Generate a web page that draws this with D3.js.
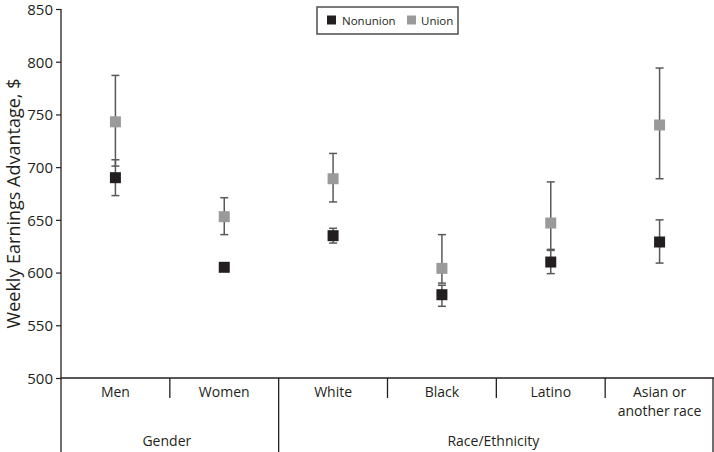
<!DOCTYPE html>
<html><head><meta charset="utf-8">
<script src="https://cdn.jsdelivr.net/npm/d3@7"></script>
<style>body{margin:0;background:#fff;} text{font-family:"Open Sans",sans-serif;fill:#231f20;}</style>
</head><body><svg id="c" width="714" height="452"></svg>
<script>
const categories = ["Men","Women","White","Black","Latino","Asian or another race"];
const groups = [{name:"Gender", from:0, to:1},{name:"Race/Ethnicity", from:2, to:5}];
const nonunion = [690, 605, 635, 579, 610, 629];
const nonunionLo = [673, 603, 628, 568, 599, 609];
const nonunionHi = [707, 608, 642, 588, 621, 650];
const union = [743, 653, 689, 604, 647, 740];
const unionLo = [701, 636, 667, 590, 622, 689];
const unionHi = [787, 671, 713, 636, 686, 794];
const yTicks = [500,550,600,650,700,750,800,850];
const seriesNames = ["Nonunion","Union"];
const colors = {Nonunion:"#231f20", Union:"#9a9a9a"};

const svg = d3.select("#c");
const x0 = 61, x1 = 714, yTop = 9, yBase = 378;
const x = d3.scaleBand().domain(categories).range([x0, x1]);
const y = d3.scaleLinear().domain([500, 850]).range([yBase, yTop]);

// y axis
const yAx = svg.append("g").attr("transform",`translate(${x0},0)`)
  .call(d3.axisLeft(y).tickValues(yTicks).tickSize(5).tickPadding(3));
yAx.select(".domain").remove();
yAx.selectAll("line").attr("stroke","#231f20").attr("stroke-width",1.2);
yAx.selectAll("text").style("font-size","15px").attr("fill","#231f20").attr("dy","0.36em");
svg.append("line").attr("x1",x0).attr("x2",x0).attr("y1",yTop).attr("y2",452).attr("stroke","#231f20").attr("stroke-width",1.3);
svg.append("line").attr("x1",x0).attr("x2",x1).attr("y1",yBase).attr("y2",yBase).attr("stroke","#231f20").attr("stroke-width",1.3);
svg.append("line").attr("x1",x1-1).attr("x2",x1-1).attr("y1",yBase).attr("y2",452).attr("stroke","#231f20").attr("stroke-width",1.3);

// y title
svg.append("text").attr("transform",`translate(20,${(yTop+yBase)/2+10}) rotate(-90)`)
  .attr("text-anchor","middle").style("font-size","18px").text("Weekly Earnings Advantage, $");

// category dividers
categories.forEach((c,i)=>{
  if(i===0) return;
  const xx = x(c);
  const isGroup = groups.some(g=>g.from===i);
  svg.append("line").attr("x1",xx).attr("x2",xx).attr("y1",yBase).attr("y2",isGroup?452:398)
    .attr("stroke","#231f20").attr("stroke-width",1.3);
});
// category labels
categories.forEach((c)=>{
  const cx = x(c)+x.bandwidth()/2;
  const t = svg.append("text").attr("text-anchor","middle").attr("x",cx).style("font-size","14px");
  if(c==="Asian or another race"){
    t.append("tspan").attr("x",cx).attr("y",397).text("Asian or");
    t.append("tspan").attr("x",cx).attr("y",416).text("another race");
  } else t.attr("y",397).text(c);
});
groups.forEach(g=>{
  const a = x(categories[g.from]), b = x(categories[g.to])+x.bandwidth();
  svg.append("text").attr("text-anchor","middle").attr("x",(a+b)/2-3).attr("y",446)
    .style("font-size","14px").text(g.name);
});

// error bars + markers
function drawSeries(vals, lo, hi, color){
  const g = svg.append("g");
  categories.forEach((c,i)=>{
    const cx = x(c)+x.bandwidth()/2;
    g.append("line").attr("x1",cx).attr("x2",cx).attr("y1",y(lo[i])).attr("y2",y(hi[i])).attr("stroke","#595959").attr("stroke-width",1.5);
    [lo[i],hi[i]].forEach(v=>{
      g.append("line").attr("x1",cx-4).attr("x2",cx+4).attr("y1",y(v)).attr("y2",y(v)).attr("stroke","#595959").attr("stroke-width",1.5);
    });
  });
  categories.forEach((c,i)=>{
    const cx = x(c)+x.bandwidth()/2;
    g.append("rect").attr("x",cx-5.5).attr("y",y(vals[i])-5.5).attr("width",11).attr("height",11).attr("fill",color);
  });
}
drawSeries(union, unionLo, unionHi, colors.Union);
drawSeries(nonunion, nonunionLo, nonunionHi, colors.Nonunion);

// legend
const lg = svg.append("g");
lg.append("rect").attr("x",317).attr("y",7).attr("width",141).attr("height",27).attr("fill","#fff").attr("stroke","#4d4d4d").attr("stroke-width",1.5);
const legendItems = [{n:seriesNames[0], sx:327, tx:342},{n:seriesNames[1], sx:407, tx:421}];
legendItems.forEach(it=>{
  lg.append("rect").attr("x",it.sx).attr("y",15.5).attr("width",9).attr("height",9).attr("fill",colors[it.n]);
  lg.append("text").attr("x",it.tx).attr("y",24.5).style("font-size","11.5px").text(it.n);
});
</script></body></html>
